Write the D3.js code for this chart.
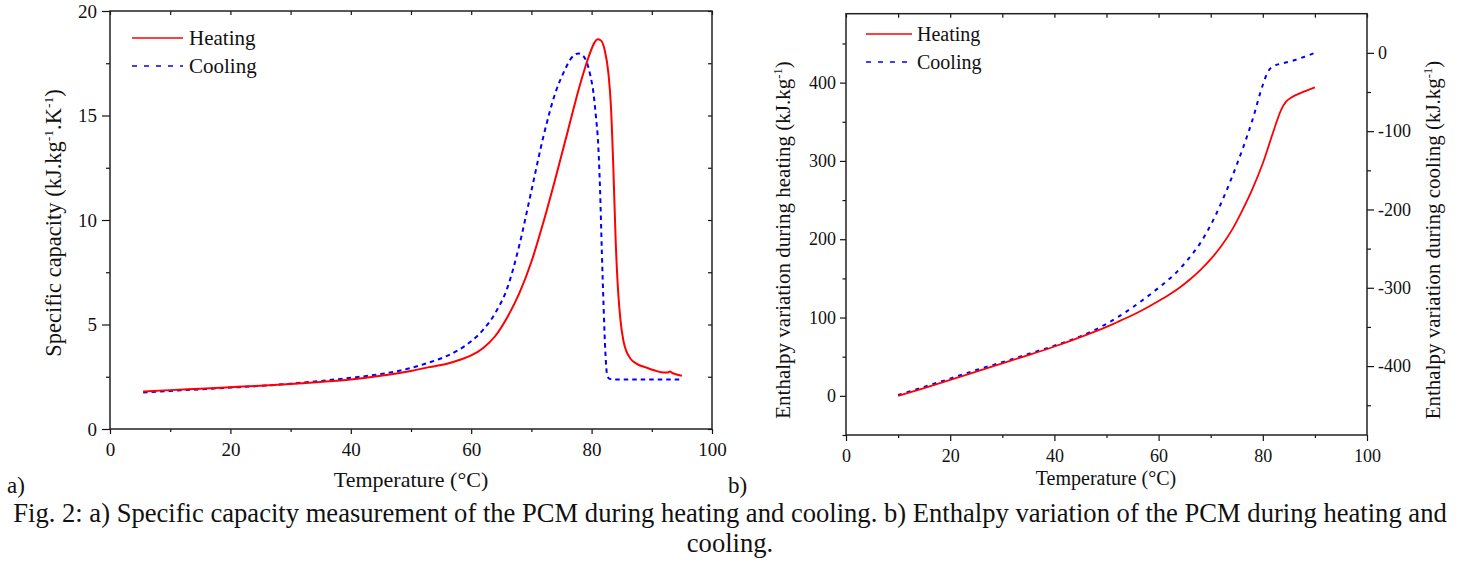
<!DOCTYPE html>
<html>
<head>
<meta charset="utf-8">
<script src="https://cdn.jsdelivr.net/npm/d3@7"></script>
<style>
  body { margin: 0; background: #fff; }
  svg { display: block; font-family: "Liberation Serif", "Times New Roman", serif; }
</style>
</head>
<body>
<svg id="fig" width="1470" height="564"></svg>
<script>
// a) specific capacity (kJ/kg.K) vs temperature (°C)
const cpHeating = [
  [5.5,1.80],[10,1.86],[15,1.93],[20,2.0],[25,2.07],[30,2.15],[35,2.25],[40,2.37],[45,2.55],[50,2.78],
  [53,2.96],[56,3.12],[58,3.3],[60,3.52],[62,3.88],[64,4.45],[66,5.35],[68,6.5],[70,8.0],[72,9.9],
  [74,12.0],[76,14.2],[78,16.4],[79.5,17.8],[80.5,18.5],[81,18.65],[81.5,18.6],[82.2,18.1],[82.8,17.0],
  [83.2,15.5],[83.6,12.6],[84.0,9.0],[84.4,6.6],[84.8,5.2],[85.3,4.2],[85.8,3.7],[86.5,3.35],[87.5,3.12],
  [89,2.95],[90.5,2.8],[92,2.7],[92.6,2.7],[93,2.75],[93.4,2.68],[94,2.62],[95,2.55]
]
const cpCooling = [
  [5.5,1.75],[10,1.82],[15,1.9],[20,1.98],[25,2.06],[30,2.17],[35,2.3],[40,2.45],[45,2.63],[50,2.92],
  [53,3.18],[56,3.5],[58,3.8],[60,4.2],[62,4.75],[64,5.55],[66,6.75],[68,8.8],[70,11.4],[72,14.0],
  [74,16.1],[75.5,17.15],[76.5,17.7],[77.8,17.97],[78.6,17.85],[79.2,17.55],[79.8,16.9],[80.3,16.1],
  [80.7,15.0],[81.1,13.6],[81.4,11.5],[81.7,8.5],[82.0,5.8],[82.3,3.6],[82.6,2.55],[83.0,2.4],
  [83.6,2.37],[95,2.37]
]

// b) enthalpy variation (kJ/kg): heating on left axis, cooling on right axis
const hHeating = [
  [10,0],[15,10],[20,20.4],[25,31],[30,41.5],[35,52],[40,63],[45,75],[50,88],[52,94],[54,100],
  [56,106.5],[58,113.5],[60,121],[62,129],[64,138],[66,148.5],[68,160.5],[70,174.5],[72,191],[74,211],
  [76,236],[78,264],[80,297],[82,337],[83.5,365],[84.5,376],[85.5,381],[87,386],[88.5,390],[90,394]
]
const hCooling = [
  [10,-437],[15,-426.5],[20,-416],[25,-405],[30,-395],[35,-384.5],[40,-374],[45,-362],[50,-346],
  [55,-325],[60,-300],[63,-283],[66,-261],[68,-243],[70,-220],[72,-192],[74,-160],[76,-125],
  [78,-86],[80,-41],[81,-24],[81.8,-18],[84,-13],[86,-9.5],[88,-5],[90,0]
]

const xMajor = [0, 20, 40, 60, 80, 100]
const xMinor = [10, 30, 50, 70, 90]
const cpMajor = [0, 5, 10, 15, 20]
const cpMinor = [2.5, 7.5, 12.5, 17.5]
const hMajor = [0, 100, 200, 300, 400]
const hMinor = [-50, 50, 150, 250, 350, 450]
const hcMajor = [0, -100, -200, -300, -400]
const hcMinor = [-50, -150, -250, -350, -450]
const seriesNames = ['Heating', 'Cooling']
const caption = [
  'Fig. 2: a) Specific capacity measurement of the PCM during heating and cooling. b) Enthalpy variation of the PCM during heating and',
  'cooling.'
]

const RED = '#ff0000'
const BLUE = '#0000ff'
const svg = d3.select('#fig')

// draw one axis (major + minor ticks) on a group
const addAxis = (g, axisFn, scale, major, minor, bigTick, smallTick, fontSize, labels) => {
  const a = g.append('g').call(axisFn(scale).tickValues(major).tickSizeInner(bigTick).tickSizeOuter(0)
      .tickPadding(labels ? 4 : 0).tickFormat(labels ? (d => String(d)) : () => ''))
  a.select('.domain').remove()
  a.selectAll('line').attr('stroke', '#111').attr('stroke-width', 1.2)
  a.selectAll('text').attr('font-size', fontSize).attr('font-family', 'Liberation Serif, Times New Roman, serif').attr('fill', '#111')
  const b = g.append('g').call(axisFn(scale).tickValues(minor).tickSizeInner(smallTick).tickSizeOuter(0).tickFormat(() => ''))
  b.select('.domain').remove()
  b.selectAll('line').attr('stroke', '#111').attr('stroke-width', 1.2)
  return a
}

const addLegend = (x0, x1, tx, y0, gap, fontSize) => {
  seriesNames.forEach((name, i) => {
    const y = y0 + i * gap
    svg.append('line').attr('x1', x0).attr('x2', x1).attr('y1', y).attr('y2', y)
      .attr('stroke', i === 0 ? RED : BLUE).attr('stroke-width', 1.5)
      .attr('stroke-dasharray', i === 0 ? null : '5,7')
    svg.append('text').attr('x', tx).attr('y', y + 7).attr('font-size', fontSize).attr('fill', '#111').text(name)
  })
}

const superTitle = (x, y, parts, fontSize) => {
  const t = svg.append('text').attr('transform', `translate(${x},${y}) rotate(-90)`)
    .attr('text-anchor', 'middle').attr('font-size', fontSize).attr('fill', '#111')
  parts.forEach(p => {
    if (p.sup) t.append('tspan').attr('dy', -8).attr('font-size', fontSize * 0.6).text(p.sup)
    else t.append('tspan').attr('dy', p.back ? 8 : 0).text(p.text)
  })
}

// ---------- panel a ----------
{
  const x = d3.scaleLinear().domain([0, 100]).range([110, 712])
  const y = d3.scaleLinear().domain([0, 20]).range([429, 11])

  addAxis(svg.append('g').attr('transform', 'translate(0,429)'), d3.axisBottom, x, xMajor, xMinor, 5, 3, 19, true)
    .selectAll('text').attr('dy', '0.95em')
  addAxis(svg.append('g').attr('transform', 'translate(110,0)'), d3.axisLeft, y, cpMajor, cpMinor, 8, 4, 19, true)
    .selectAll('text').attr('dx', -1)
  addAxis(svg.append('g').attr('transform', 'translate(0,11)'), d3.axisTop, x, xMajor, xMinor, -4, -4, 19, false)
  addAxis(svg.append('g').attr('transform', 'translate(712,0)'), d3.axisRight, y, cpMajor, cpMinor, -4, -4, 19, false)

  const line = d3.line().x(d => x(d[0])).y(d => y(d[1])).curve(d3.curveMonotoneX)
  svg.append('path').datum(cpCooling).attr('d', line).attr('fill', 'none')
    .attr('stroke', BLUE).attr('stroke-width', 2).attr('stroke-dasharray', '4.5,4')
  svg.append('path').datum(cpHeating).attr('d', line).attr('fill', 'none')
    .attr('stroke', RED).attr('stroke-width', 2)

  svg.append('rect').attr('x', 110).attr('y', 11).attr('width', 602).attr('height', 418)
    .attr('fill', 'none').attr('stroke', '#222').attr('stroke-width', 1.5)

  addLegend(132, 183, 189, 38, 28, 21)

  svg.append('text').attr('x', 411).attr('y', 487).attr('text-anchor', 'middle')
    .attr('font-size', 22).attr('fill', '#111').text('Temperature (°C)')
  superTitle(61, 223, [
    { text: 'Specific capacity (kJ.kg' }, { sup: '-1' }, { text: '.K', back: true }, { sup: '-1' }, { text: ')', back: true }
  ], 22.5)
  svg.append('text').attr('x', 7).attr('y', 493).attr('font-size', 23).attr('fill', '#111').text('a)')
}

// ---------- panel b ----------
{
  const x = d3.scaleLinear().domain([0, 100]).range([846, 1367])
  const yL = d3.scaleLinear().domain([-50, 488]).range([435, 13.7])
  const yR = d3.scaleLinear().domain([-488, 50]).range([435, 13.7])

  addAxis(svg.append('g').attr('transform', 'translate(0,435)'), d3.axisBottom, x, xMajor, xMinor, 6, 3, 18, true)
    .selectAll('text').attr('dy', '0.95em')
  addAxis(svg.append('g').attr('transform', 'translate(846,0)'), d3.axisLeft, yL, hMajor, hMinor, 6, 3.5, 18, true)
  addAxis(svg.append('g').attr('transform', 'translate(0,13.7)'), d3.axisTop, x, xMajor, xMinor, -4, -4, 18, false)
  addAxis(svg.append('g').attr('transform', 'translate(1367,0)'), d3.axisRight, yR, hcMajor, hcMinor, 7, 4, 18, true)

  const lineL = d3.line().x(d => x(d[0])).y(d => yL(d[1])).curve(d3.curveMonotoneX)
  const lineR = d3.line().x(d => x(d[0])).y(d => yR(d[1])).curve(d3.curveMonotoneX)
  svg.append('path').datum(hCooling).attr('d', lineR).attr('fill', 'none')
    .attr('stroke', BLUE).attr('stroke-width', 2).attr('stroke-dasharray', '4,5')
  svg.append('path').datum(hHeating).attr('d', lineL).attr('fill', 'none')
    .attr('stroke', RED).attr('stroke-width', 1.8)

  svg.append('rect').attr('x', 846).attr('y', 13.7).attr('width', 521).attr('height', 421.3)
    .attr('fill', 'none').attr('stroke', '#222').attr('stroke-width', 1.5)

  addLegend(866, 912, 917, 34, 28, 20)

  svg.append('text').attr('x', 1106).attr('y', 485).attr('text-anchor', 'middle')
    .attr('font-size', 20).attr('fill', '#111').text('Temperature (°C)')
  superTitle(790, 240, [
    { text: 'Enthalpy variation during heating (kJ.kg' }, { sup: '-1' }, { text: ')', back: true }
  ], 21)
  superTitle(1440, 240, [
    { text: 'Enthalpy variation during cooling (kJ.kg' }, { sup: '-1' }, { text: ')', back: true }
  ], 21)
  svg.append('text').attr('x', 728).attr('y', 493).attr('font-size', 23).attr('fill', '#111').text('b)')
}

// caption
caption.forEach((c, i) => {
  svg.append('text').attr('x', 730).attr('y', 522 + i * 30).attr('text-anchor', 'middle')
    .attr('font-size', 26.6).attr('fill', '#111').text(c)
})
</script>
</body>
</html>
